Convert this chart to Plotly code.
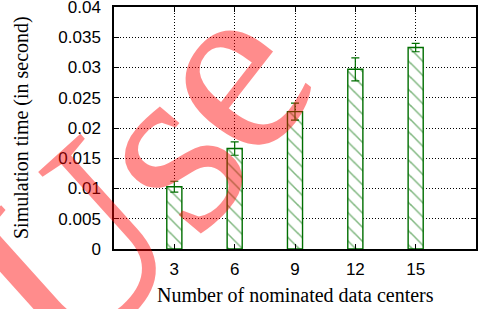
import plotly.graph_objects as go

categories = [3, 6, 9, 12, 15]
sim_time = [0.0103, 0.0166, 0.0227, 0.0297, 0.0333]
sim_err = [0.0009, 0.0011, 0.0014, 0.0019, 0.0007]
y_ticks = [0, 0.005, 0.01, 0.015, 0.02, 0.025, 0.03, 0.035, 0.04]
y_ticktext = ["0", "0.005", "0.01", "0.015", "0.02", "0.025", "0.03", "0.035", "0.04"]
x_ticktext = ["3", "6", "9", "12", "15"]
watermark_letters = ["U", "s", "e"]

green = "#006e00"
L, R, T, B = 114, 5, 7, 60
W, H = 481, 309
pw, ph = W - L - R, H - T - B

fig = go.Figure()
fig.add_trace(go.Bar(
    x=categories, y=sim_time, width=0.75,
    marker=dict(color="white", line=dict(color=green, width=1.4),
                pattern=dict(shape="\\", fgcolor=green, bgcolor="white", size=10, solidity=0.15)),
    error_y=dict(type="data", array=sim_err, color=green, thickness=1.2, width=4),
    showlegend=False,
))

# watermark letters: (pixel centre x, y, angle)
wm_pos = [(70, 252, -42), (162, 151, -50), (222, 73, -52)]
for ch, (px, py, ang) in zip(watermark_letters, wm_pos):
    fig.add_annotation(
        text=ch, xref="paper", yref="paper", x=(px - L) / pw, y=(H - B - py) / ph,
        xanchor="center", yanchor="middle", showarrow=False, textangle=ang,
        font=dict(family="Liberation Serif", size=255, color="rgba(255,0,0,0.45)"),
    )
fig.add_annotation(
    text="Number of nominated data centers", xref="paper", yref="paper",
    x=0.5, y=0, yshift=-(295 - (H - B)), xanchor="center", yanchor="middle", showarrow=False,
    font=dict(family="Liberation Serif", size=20, color="black"),
)
fig.add_annotation(
    text="Simulation time (in second)", xref="paper", yref="paper",
    x=0, xshift=-(L - 21), y=0.5, xanchor="center", yanchor="middle", showarrow=False, textangle=-90,
    font=dict(family="Liberation Serif", size=20, color="black"),
)

fig.update_layout(
    width=W, height=H,
    margin=dict(l=L, r=R, t=T, b=B, autoexpand=False),
    plot_bgcolor="white", paper_bgcolor="white",
    font=dict(family="Liberation Sans", size=17, color="black"),
)
common = dict(
    showline=True, linecolor="black", linewidth=1.5, mirror="ticks",
    ticks="inside", ticklen=5, tickcolor="black", tickwidth=1,
    showgrid=True, gridcolor="black", griddash="1px,2px", gridwidth=1,
    zeroline=False, automargin=False, ticklabeloverflow="allow",
)
fig.update_xaxes(range=[0, 18], tickvals=categories, ticktext=x_ticktext, ticklabelstandoff=4, **common)
fig.update_yaxes(range=[0, 0.04], tickvals=y_ticks, ticktext=y_ticktext, ticklabelstandoff=8, **common)

fig.write_html("out.html", config={"displayModeBar": False},
               post_script="document.body.style.margin='0';document.body.style.overflow='hidden';")
